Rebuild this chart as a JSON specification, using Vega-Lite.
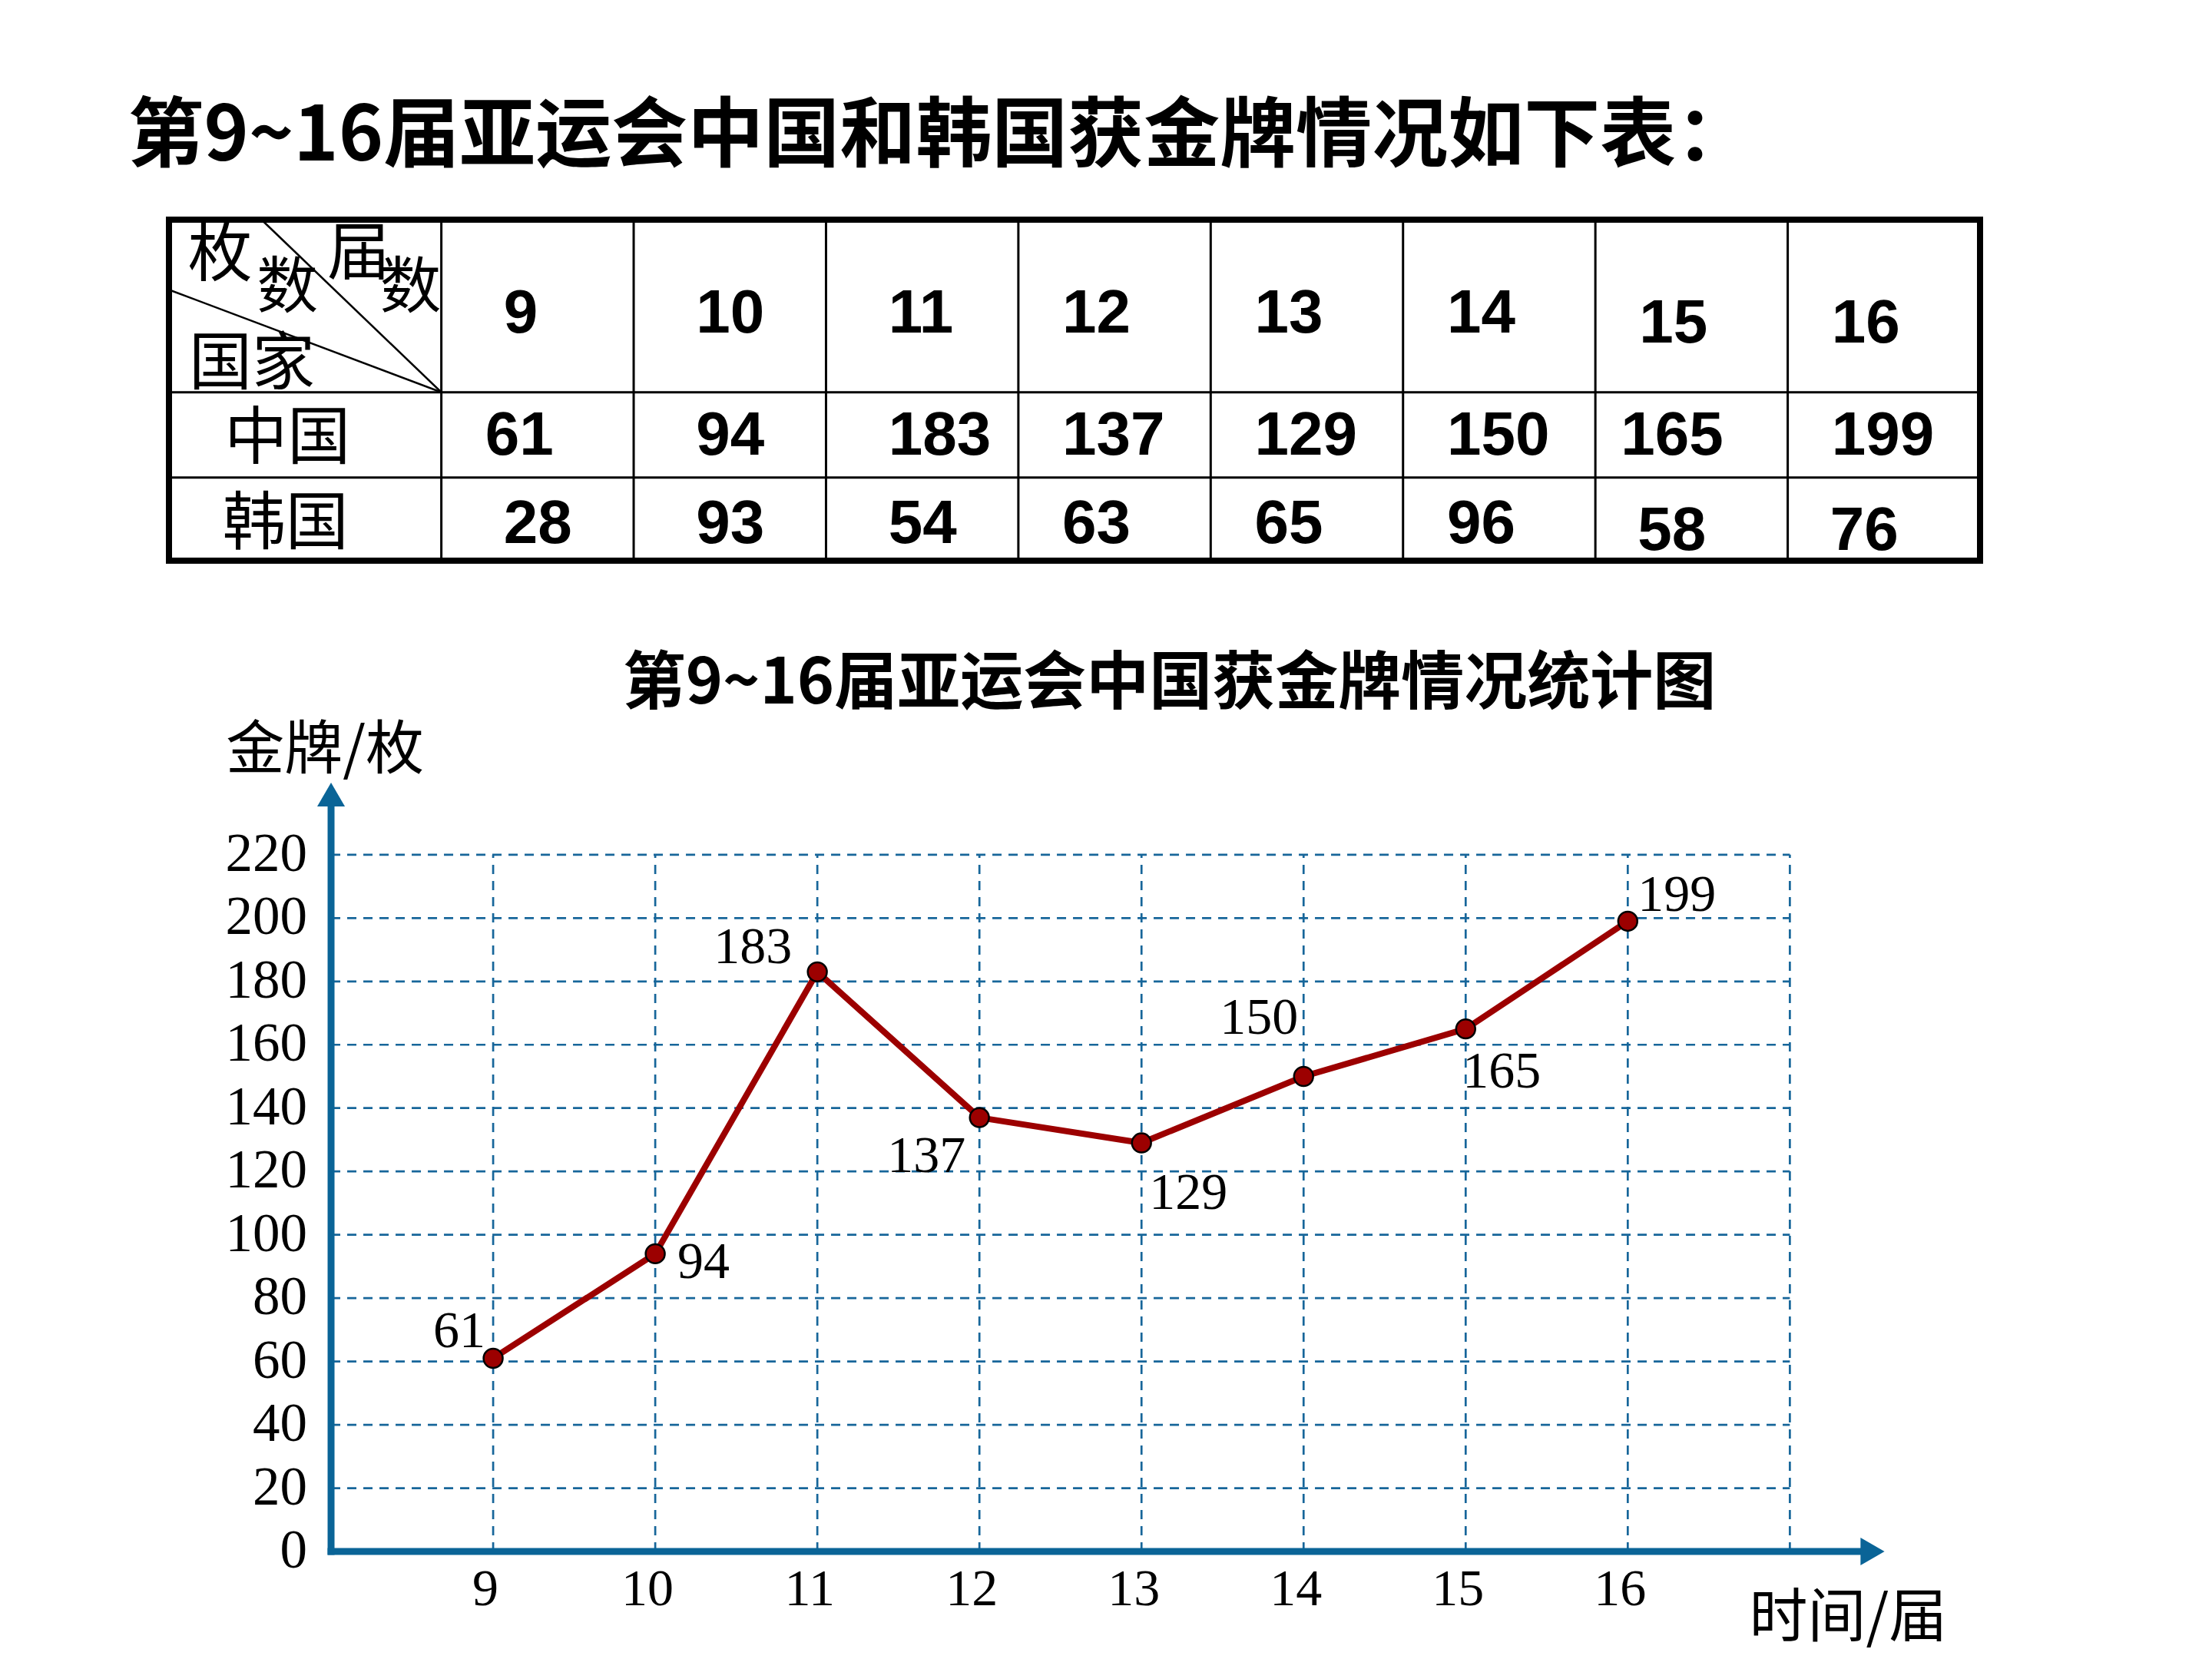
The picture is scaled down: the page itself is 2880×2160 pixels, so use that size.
{
  "$schema": "https://vega.github.io/schema/vega-lite/v6.json",
  "background": "white",
  "padding": {"left": 162, "top": 125, "right": 10, "bottom": 10},
  "config": {"view": {"stroke": null}, "font": "Noto Sans CJK SC"},
  "datasets": {
    "medals": [
      {"session": 9, "china": 61, "korea": 28},
      {"session": 10, "china": 94, "korea": 93},
      {"session": 11, "china": 183, "korea": 54},
      {"session": 12, "china": 137, "korea": 63},
      {"session": 13, "china": 129, "korea": 65},
      {"session": 14, "china": 150, "korea": 96},
      {"session": 15, "china": 165, "korea": 58},
      {"session": 16, "china": 199, "korea": 76}
    ],
    "xgrid": [{"s": 9}, {"s": 10}, {"s": 11}, {"s": 12}, {"s": 13}, {"s": 14}, {"s": 15}, {"s": 16}, {"s": 17}],
    "ygrid": [{"v": 20}, {"v": 40}, {"v": 60}, {"v": 80}, {"v": 100}, {"v": 120}, {"v": 140}, {"v": 160}, {"v": 180}, {"v": 200}, {"v": 220}],
    "ylabels": [{"v": 0}, {"v": 20}, {"v": 40}, {"v": 60}, {"v": 80}, {"v": 100}, {"v": 120}, {"v": 140}, {"v": 160}, {"v": 180}, {"v": 200}, {"v": 220}]
  },
  "spacing": 114,
  "vconcat": [
    {
      "width": 2358,
      "height": 444,
      "title": {"text": "第9~16届亚运会中国和韩国获金牌情况如下表：", "anchor": "start", "dx": -52, "offset": 55, "fontSize": 99, "font": "Noto Sans CJK SC", "fontWeight": "bold", "color": "black"},
      "view": {"stroke": "black", "strokeWidth": 8},
      "data": {"name": "medals"},
      "layer": [
        {
          "mark": {"type": "rule", "xOffset": -125.2, "strokeWidth": 3, "color": "black"},
          "encoding": {"x": {"field": "session", "type": "quantitative", "scale": {"domain": [7.084, 16.5], "nice": false, "zero": false}, "axis": null}}
        },
        {
          "data": {"values": [{}]},
          "mark": {"type": "rule", "strokeWidth": 3, "color": "black"},
          "encoding": {"y": {"datum": 2.045, "type": "quantitative", "scale": {"domain": [0, 4.04], "reverse": true, "nice": false, "zero": false}, "axis": null}}
        },
        {
          "data": {"values": [{}]},
          "mark": {"type": "rule", "strokeWidth": 3, "color": "black"},
          "encoding": {"y": {"datum": 3.055, "type": "quantitative", "scale": {"domain": [0, 4.04], "reverse": true, "nice": false, "zero": false}, "axis": null}}
        },
        {
          "data": {"values": [{}]},
          "mark": {"type": "rule", "strokeWidth": 2.5, "color": "black"},
          "encoding": {
            "x": {"datum": 7.565, "type": "quantitative", "scale": {"domain": [7.084, 16.5], "nice": false, "zero": false}, "axis": null},
            "y": {"datum": 0, "type": "quantitative", "scale": {"domain": [0, 4.04], "reverse": true, "nice": false, "zero": false}, "axis": null},
            "x2": {"datum": 8.5},
            "y2": {"datum": 2.045}
          }
        },
        {
          "data": {"values": [{}]},
          "mark": {"type": "rule", "strokeWidth": 2.5, "color": "black"},
          "encoding": {
            "x": {"datum": 7.084, "type": "quantitative", "scale": {"domain": [7.084, 16.5], "nice": false, "zero": false}, "axis": null},
            "y": {"datum": 0.83, "type": "quantitative", "scale": {"domain": [0, 4.04], "reverse": true, "nice": false, "zero": false}, "axis": null},
            "x2": {"datum": 8.5},
            "y2": {"datum": 2.045}
          }
        },
        {
          "data": {"values": [{"w": "枚"}]},
          "mark": {"type": "text", "font": "Noto Sans CJK SC", "fontSize": 84, "align": "center", "baseline": "middle", "color": "black"},
          "encoding": {
            "x": {"datum": 7.35, "type": "quantitative", "scale": {"domain": [7.084, 16.5], "nice": false, "zero": false}, "axis": null},
            "y": {"datum": 0.44, "type": "quantitative", "scale": {"domain": [0, 4.04], "reverse": true, "nice": false, "zero": false}, "axis": null},
            "text": {"field": "w"}
          }
        },
        {
          "data": {"values": [{"w": "数"}]},
          "mark": {"type": "text", "font": "Noto Sans CJK SC", "fontSize": 80, "align": "center", "baseline": "middle", "color": "black"},
          "encoding": {
            "x": {"datum": 7.7, "type": "quantitative", "scale": {"domain": [7.084, 16.5], "nice": false, "zero": false}, "axis": null},
            "y": {"datum": 0.82, "type": "quantitative", "scale": {"domain": [0, 4.04], "reverse": true, "nice": false, "zero": false}, "axis": null},
            "text": {"field": "w"}
          }
        },
        {
          "data": {"values": [{"w": "届"}]},
          "mark": {"type": "text", "font": "Noto Sans CJK SC", "fontSize": 82, "align": "center", "baseline": "middle", "color": "black"},
          "encoding": {
            "x": {"datum": 8.07, "type": "quantitative", "scale": {"domain": [7.084, 16.5], "nice": false, "zero": false}, "axis": null},
            "y": {"datum": 0.42, "type": "quantitative", "scale": {"domain": [0, 4.04], "reverse": true, "nice": false, "zero": false}, "axis": null},
            "text": {"field": "w"}
          }
        },
        {
          "data": {"values": [{"w": "数"}]},
          "mark": {"type": "text", "font": "Noto Sans CJK SC", "fontSize": 80, "align": "center", "baseline": "middle", "color": "black"},
          "encoding": {
            "x": {"datum": 8.34, "type": "quantitative", "scale": {"domain": [7.084, 16.5], "nice": false, "zero": false}, "axis": null},
            "y": {"datum": 0.82, "type": "quantitative", "scale": {"domain": [0, 4.04], "reverse": true, "nice": false, "zero": false}, "axis": null},
            "text": {"field": "w"}
          }
        },
        {
          "data": {"values": [{"w": "国家"}]},
          "mark": {"type": "text", "font": "Noto Sans CJK SC", "fontSize": 82, "align": "center", "baseline": "middle", "color": "black"},
          "encoding": {
            "x": {"datum": 7.515, "type": "quantitative", "scale": {"domain": [7.084, 16.5], "nice": false, "zero": false}, "axis": null},
            "y": {"datum": 1.72, "type": "quantitative", "scale": {"domain": [0, 4.04], "reverse": true, "nice": false, "zero": false}, "axis": null},
            "text": {"field": "w"}
          }
        },
        {
          "data": {"values": [{"c": "中国"}]},
          "mark": {"type": "text", "font": "Noto Sans CJK SC", "fontSize": 82, "align": "center", "baseline": "middle", "color": "black"},
          "encoding": {
            "x": {"datum": 7.7, "type": "quantitative", "scale": {"domain": [7.084, 16.5], "nice": false, "zero": false}, "axis": null},
            "y": {"datum": 2.6, "type": "quantitative", "scale": {"domain": [0, 4.04], "reverse": true, "nice": false, "zero": false}, "axis": null},
            "text": {"field": "c"}
          }
        },
        {
          "data": {"values": [{"c": "韩国"}]},
          "mark": {"type": "text", "font": "Noto Sans CJK SC", "fontSize": 82, "align": "center", "baseline": "middle", "color": "black"},
          "encoding": {
            "x": {"datum": 7.69, "type": "quantitative", "scale": {"domain": [7.084, 16.5], "nice": false, "zero": false}, "axis": null},
            "y": {"datum": 3.61, "type": "quantitative", "scale": {"domain": [0, 4.04], "reverse": true, "nice": false, "zero": false}, "axis": null},
            "text": {"field": "c"}
          }
        },
        {
          "transform": [{"filter": "datum.session <= 11"}],
          "mark": {"type": "text", "font": "Liberation Sans", "fontWeight": "bold", "fontSize": 80, "align": "left", "baseline": "middle", "dx": -44, "color": "black"},
          "encoding": {
            "x": {"field": "session", "type": "quantitative", "scale": {"domain": [7.084, 16.5], "nice": false, "zero": false}, "axis": null},
            "y": {"datum": 1.12, "type": "quantitative", "scale": {"domain": [0, 4.04], "reverse": true, "nice": false, "zero": false}, "axis": null},
            "text": {"field": "session", "type": "nominal"}
          }
        },
        {
          "transform": [{"filter": "datum.session >= 12 && datum.session <= 14"}],
          "mark": {"type": "text", "font": "Liberation Sans", "fontWeight": "bold", "fontSize": 80, "align": "left", "baseline": "middle", "dx": -68, "color": "black"},
          "encoding": {
            "x": {"field": "session", "type": "quantitative", "scale": {"domain": [7.084, 16.5], "nice": false, "zero": false}, "axis": null},
            "y": {"datum": 1.12, "type": "quantitative", "scale": {"domain": [0, 4.04], "reverse": true, "nice": false, "zero": false}, "axis": null},
            "text": {"field": "session", "type": "nominal"}
          }
        },
        {
          "transform": [{"filter": "datum.session >= 15"}],
          "mark": {"type": "text", "font": "Liberation Sans", "fontWeight": "bold", "fontSize": 80, "align": "left", "baseline": "middle", "dx": -68, "color": "black"},
          "encoding": {
            "x": {"field": "session", "type": "quantitative", "scale": {"domain": [7.084, 16.5], "nice": false, "zero": false}, "axis": null},
            "y": {"datum": 1.236, "type": "quantitative", "scale": {"domain": [0, 4.04], "reverse": true, "nice": false, "zero": false}, "axis": null},
            "text": {"field": "session", "type": "nominal"}
          }
        },
        {
          "transform": [{"filter": "datum.session == 10 || datum.session == 11"}],
          "mark": {"type": "text", "font": "Liberation Sans", "fontWeight": "bold", "fontSize": 80, "align": "left", "baseline": "middle", "dx": -44, "color": "black"},
          "encoding": {
            "x": {"field": "session", "type": "quantitative", "scale": {"domain": [7.084, 16.5], "nice": false, "zero": false}, "axis": null},
            "y": {"datum": 2.57, "type": "quantitative", "scale": {"domain": [0, 4.04], "reverse": true, "nice": false, "zero": false}, "axis": null},
            "text": {"field": "china", "type": "nominal"}
          }
        },
        {
          "transform": [{"filter": "datum.session == 9 || (datum.session >= 12 && datum.session != 15)"}],
          "mark": {"type": "text", "font": "Liberation Sans", "fontWeight": "bold", "fontSize": 80, "align": "left", "baseline": "middle", "dx": -68, "color": "black"},
          "encoding": {
            "x": {"field": "session", "type": "quantitative", "scale": {"domain": [7.084, 16.5], "nice": false, "zero": false}, "axis": null},
            "y": {"datum": 2.57, "type": "quantitative", "scale": {"domain": [0, 4.04], "reverse": true, "nice": false, "zero": false}, "axis": null},
            "text": {"field": "china", "type": "nominal"}
          }
        },
        {
          "transform": [{"filter": "datum.session == 15"}],
          "mark": {"type": "text", "font": "Liberation Sans", "fontWeight": "bold", "fontSize": 80, "align": "left", "baseline": "middle", "dx": -92, "color": "black"},
          "encoding": {
            "x": {"field": "session", "type": "quantitative", "scale": {"domain": [7.084, 16.5], "nice": false, "zero": false}, "axis": null},
            "y": {"datum": 2.57, "type": "quantitative", "scale": {"domain": [0, 4.04], "reverse": true, "nice": false, "zero": false}, "axis": null},
            "text": {"field": "china", "type": "nominal"}
          }
        },
        {
          "transform": [{"filter": "datum.session <= 11"}],
          "mark": {"type": "text", "font": "Liberation Sans", "fontWeight": "bold", "fontSize": 80, "align": "left", "baseline": "middle", "dx": -44, "color": "black"},
          "encoding": {
            "x": {"field": "session", "type": "quantitative", "scale": {"domain": [7.084, 16.5], "nice": false, "zero": false}, "axis": null},
            "y": {"datum": 3.61, "type": "quantitative", "scale": {"domain": [0, 4.04], "reverse": true, "nice": false, "zero": false}, "axis": null},
            "text": {"field": "korea", "type": "nominal"}
          }
        },
        {
          "transform": [{"filter": "datum.session >= 12 && datum.session <= 14"}],
          "mark": {"type": "text", "font": "Liberation Sans", "fontWeight": "bold", "fontSize": 80, "align": "left", "baseline": "middle", "dx": -68, "color": "black"},
          "encoding": {
            "x": {"field": "session", "type": "quantitative", "scale": {"domain": [7.084, 16.5], "nice": false, "zero": false}, "axis": null},
            "y": {"datum": 3.61, "type": "quantitative", "scale": {"domain": [0, 4.04], "reverse": true, "nice": false, "zero": false}, "axis": null},
            "text": {"field": "korea", "type": "nominal"}
          }
        },
        {
          "transform": [{"filter": "datum.session >= 15"}],
          "mark": {"type": "text", "font": "Liberation Sans", "fontWeight": "bold", "fontSize": 80, "align": "left", "baseline": "middle", "dx": -70, "color": "black"},
          "encoding": {
            "x": {"field": "session", "type": "quantitative", "scale": {"domain": [7.084, 16.5], "nice": false, "zero": false}, "axis": null},
            "y": {"datum": 3.69, "type": "quantitative", "scale": {"domain": [0, 4.04], "reverse": true, "nice": false, "zero": false}, "axis": null},
            "text": {"field": "korea", "type": "nominal"}
          }
        }
      ]
    },
    {
      "width": 2237,
      "height": 1002,
      "title": {"text": "第9~16届亚运会中国获金牌情况统计图", "anchor": "middle", "frame": "group", "dx": 184, "offset": 7, "fontSize": 82, "font": "Noto Sans CJK SC", "fontWeight": "bold", "color": "black"},
      "data": {"name": "medals"},
      "layer": [
        {
          "data": {"name": "ygrid"},
          "mark": {"type": "rule", "strokeDash": [12, 9], "strokeWidth": 2.7, "color": "#17669A"},
          "encoding": {
            "y": {"field": "v", "type": "quantitative", "scale": {"domain": [0, 243], "nice": false, "zero": false}, "axis": null},
            "x": {"datum": 8, "type": "quantitative", "scale": {"domain": [7, 17.6], "nice": false, "zero": false}, "axis": null},
            "x2": {"datum": 17}
          }
        },
        {
          "data": {"name": "xgrid"},
          "mark": {"type": "rule", "strokeDash": [12, 9], "strokeWidth": 2.7, "color": "#17669A"},
          "encoding": {
            "x": {"field": "s", "type": "quantitative", "scale": {"domain": [7, 17.6], "nice": false, "zero": false}, "axis": null},
            "y": {"datum": 0, "type": "quantitative", "scale": {"domain": [0, 243], "nice": false, "zero": false}, "axis": null},
            "y2": {"datum": 220}
          }
        },
        {
          "data": {"values": [{}]},
          "mark": {"type": "rule", "strokeWidth": 9, "strokeCap": "square", "color": "#0A6497"},
          "encoding": {
            "x": {"datum": 8, "type": "quantitative", "scale": {"domain": [7, 17.6], "nice": false, "zero": false}, "axis": null},
            "y": {"datum": 0, "type": "quantitative", "scale": {"domain": [0, 243], "nice": false, "zero": false}, "axis": null},
            "y2": {"datum": 236}
          }
        },
        {
          "data": {"values": [{}]},
          "mark": {"type": "rule", "strokeWidth": 9, "strokeCap": "square", "color": "#0A6497"},
          "encoding": {
            "x": {"datum": 8, "type": "quantitative", "scale": {"domain": [7, 17.6], "nice": false, "zero": false}, "axis": null},
            "x2": {"datum": 17.45},
            "y": {"datum": 0, "type": "quantitative", "scale": {"domain": [0, 243], "nice": false, "zero": false}, "axis": null}
          }
        },
        {
          "data": {"values": [{}]},
          "mark": {"type": "point", "shape": "triangle-up", "filled": true, "size": 1300, "color": "#0A6497", "opacity": 1},
          "encoding": {
            "x": {"datum": 8, "type": "quantitative", "scale": {"domain": [7, 17.6], "nice": false, "zero": false}, "axis": null},
            "y": {"datum": 239, "type": "quantitative", "scale": {"domain": [0, 243], "nice": false, "zero": false}, "axis": null}
          }
        },
        {
          "data": {"values": [{}]},
          "mark": {"type": "point", "shape": "triangle-right", "filled": true, "size": 1300, "color": "#0A6497", "opacity": 1},
          "encoding": {
            "x": {"datum": 17.51, "type": "quantitative", "scale": {"domain": [7, 17.6], "nice": false, "zero": false}, "axis": null},
            "y": {"datum": 0, "type": "quantitative", "scale": {"domain": [0, 243], "nice": false, "zero": false}, "axis": null}
          }
        },
        {
          "data": {"name": "ylabels"},
          "mark": {"type": "text", "font": "Liberation Serif", "fontSize": 71, "align": "right", "baseline": "middle", "dx": -31, "color": "black"},
          "encoding": {
            "x": {"datum": 8, "type": "quantitative", "scale": {"domain": [7, 17.6], "nice": false, "zero": false}, "axis": null},
            "y": {"field": "v", "type": "quantitative", "scale": {"domain": [0, 243], "nice": false, "zero": false}, "axis": null},
            "text": {"field": "v", "type": "nominal"}
          }
        },
        {
          "mark": {"type": "text", "font": "Liberation Serif", "fontSize": 68, "align": "center", "baseline": "middle", "dx": -10, "dy": 50, "color": "black"},
          "encoding": {
            "x": {"field": "session", "type": "quantitative", "scale": {"domain": [7, 17.6], "nice": false, "zero": false}, "axis": null},
            "y": {"datum": 0, "type": "quantitative", "scale": {"domain": [0, 243], "nice": false, "zero": false}, "axis": null},
            "text": {"field": "session", "type": "nominal"}
          }
        },
        {
          "data": {"values": [{"t": "金牌/枚"}]},
          "mark": {"type": "text", "font": "Noto Sans CJK SC", "fontSize": 76, "align": "center", "baseline": "middle", "dx": -8, "dy": -40, "color": "black"},
          "encoding": {
            "x": {"datum": 8, "type": "quantitative", "scale": {"domain": [7, 17.6], "nice": false, "zero": false}, "axis": null},
            "y": {"datum": 243, "type": "quantitative", "scale": {"domain": [0, 243], "nice": false, "zero": false}, "axis": null},
            "text": {"field": "t"}
          }
        },
        {
          "data": {"values": [{"t": "时间/届"}]},
          "mark": {"type": "text", "font": "Noto Sans CJK SC", "fontSize": 76, "align": "center", "baseline": "middle", "dy": 88, "color": "black"},
          "encoding": {
            "x": {"datum": 17.36, "type": "quantitative", "scale": {"domain": [7, 17.6], "nice": false, "zero": false}, "axis": null},
            "y": {"datum": 0, "type": "quantitative", "scale": {"domain": [0, 243], "nice": false, "zero": false}, "axis": null},
            "text": {"field": "t"}
          }
        },
        {
          "mark": {"type": "line", "color": "#9C0000", "strokeWidth": 8},
          "encoding": {
            "x": {"field": "session", "type": "quantitative", "scale": {"domain": [7, 17.6], "nice": false, "zero": false}, "axis": null},
            "y": {"field": "china", "type": "quantitative", "scale": {"domain": [0, 243], "nice": false, "zero": false}, "axis": null}
          }
        },
        {
          "mark": {"type": "point", "shape": "circle", "filled": true, "fill": "#9C0000", "stroke": "black", "strokeWidth": 2.5, "size": 620, "opacity": 1},
          "encoding": {
            "x": {"field": "session", "type": "quantitative", "scale": {"domain": [7, 17.6], "nice": false, "zero": false}, "axis": null},
            "y": {"field": "china", "type": "quantitative", "scale": {"domain": [0, 243], "nice": false, "zero": false}, "axis": null}
          }
        },
        {
          "transform": [{"filter": "datum.session == 9"}],
          "mark": {"type": "text", "font": "Liberation Serif", "fontSize": 68, "align": "center", "baseline": "middle", "dx": -44, "dy": -34, "color": "black"},
          "encoding": {
            "x": {"field": "session", "type": "quantitative", "scale": {"domain": [7, 17.6], "nice": false, "zero": false}, "axis": null},
            "y": {"field": "china", "type": "quantitative", "scale": {"domain": [0, 243], "nice": false, "zero": false}, "axis": null},
            "text": {"field": "china", "type": "nominal"}
          }
        },
        {
          "transform": [{"filter": "datum.session == 10"}],
          "mark": {"type": "text", "font": "Liberation Serif", "fontSize": 68, "align": "center", "baseline": "middle", "dx": 63, "dy": 12, "color": "black"},
          "encoding": {
            "x": {"field": "session", "type": "quantitative", "scale": {"domain": [7, 17.6], "nice": false, "zero": false}, "axis": null},
            "y": {"field": "china", "type": "quantitative", "scale": {"domain": [0, 243], "nice": false, "zero": false}, "axis": null},
            "text": {"field": "china", "type": "nominal"}
          }
        },
        {
          "transform": [{"filter": "datum.session == 11"}],
          "mark": {"type": "text", "font": "Liberation Serif", "fontSize": 68, "align": "center", "baseline": "middle", "dx": -84, "dy": -31, "color": "black"},
          "encoding": {
            "x": {"field": "session", "type": "quantitative", "scale": {"domain": [7, 17.6], "nice": false, "zero": false}, "axis": null},
            "y": {"field": "china", "type": "quantitative", "scale": {"domain": [0, 243], "nice": false, "zero": false}, "axis": null},
            "text": {"field": "china", "type": "nominal"}
          }
        },
        {
          "transform": [{"filter": "datum.session == 12"}],
          "mark": {"type": "text", "font": "Liberation Serif", "fontSize": 68, "align": "center", "baseline": "middle", "dx": -69, "dy": 51, "color": "black"},
          "encoding": {
            "x": {"field": "session", "type": "quantitative", "scale": {"domain": [7, 17.6], "nice": false, "zero": false}, "axis": null},
            "y": {"field": "china", "type": "quantitative", "scale": {"domain": [0, 243], "nice": false, "zero": false}, "axis": null},
            "text": {"field": "china", "type": "nominal"}
          }
        },
        {
          "transform": [{"filter": "datum.session == 13"}],
          "mark": {"type": "text", "font": "Liberation Serif", "fontSize": 68, "align": "center", "baseline": "middle", "dx": 61, "dy": 66, "color": "black"},
          "encoding": {
            "x": {"field": "session", "type": "quantitative", "scale": {"domain": [7, 17.6], "nice": false, "zero": false}, "axis": null},
            "y": {"field": "china", "type": "quantitative", "scale": {"domain": [0, 243], "nice": false, "zero": false}, "axis": null},
            "text": {"field": "china", "type": "nominal"}
          }
        },
        {
          "transform": [{"filter": "datum.session == 14"}],
          "mark": {"type": "text", "font": "Liberation Serif", "fontSize": 68, "align": "center", "baseline": "middle", "dx": -58, "dy": -75, "color": "black"},
          "encoding": {
            "x": {"field": "session", "type": "quantitative", "scale": {"domain": [7, 17.6], "nice": false, "zero": false}, "axis": null},
            "y": {"field": "china", "type": "quantitative", "scale": {"domain": [0, 243], "nice": false, "zero": false}, "axis": null},
            "text": {"field": "china", "type": "nominal"}
          }
        },
        {
          "transform": [{"filter": "datum.session == 15"}],
          "mark": {"type": "text", "font": "Liberation Serif", "fontSize": 68, "align": "center", "baseline": "middle", "dx": 47, "dy": 56, "color": "black"},
          "encoding": {
            "x": {"field": "session", "type": "quantitative", "scale": {"domain": [7, 17.6], "nice": false, "zero": false}, "axis": null},
            "y": {"field": "china", "type": "quantitative", "scale": {"domain": [0, 243], "nice": false, "zero": false}, "axis": null},
            "text": {"field": "china", "type": "nominal"}
          }
        },
        {
          "transform": [{"filter": "datum.session == 16"}],
          "mark": {"type": "text", "font": "Liberation Serif", "fontSize": 68, "align": "center", "baseline": "middle", "dx": 64, "dy": -33, "color": "black"},
          "encoding": {
            "x": {"field": "session", "type": "quantitative", "scale": {"domain": [7, 17.6], "nice": false, "zero": false}, "axis": null},
            "y": {"field": "china", "type": "quantitative", "scale": {"domain": [0, 243], "nice": false, "zero": false}, "axis": null},
            "text": {"field": "china", "type": "nominal"}
          }
        }
      ]
    }
  ]
}
